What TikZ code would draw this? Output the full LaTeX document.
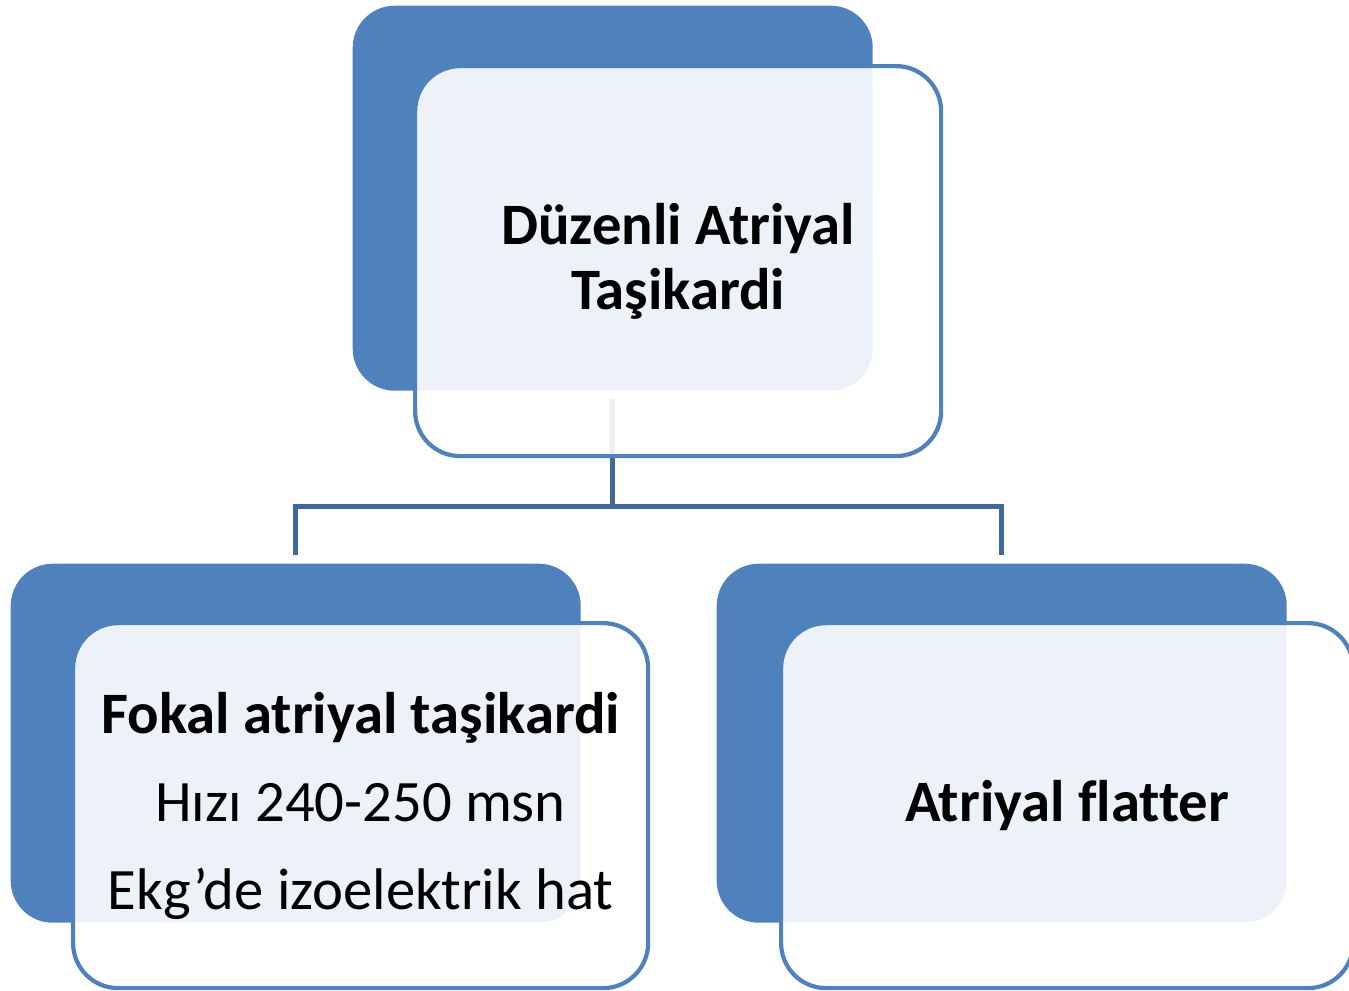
\documentclass[tikz,border=0pt]{standalone}
\usepackage{fontspec}
\setmainfont{Carlito}[Ligatures=NoCommon]
\usepackage{xcolor}
\definecolor{cardblue}{HTML}{4F81BD}
\definecolor{linkblue}{HTML}{41679B}

\begin{document}
\begin{tikzpicture}[
    backcard/.style={fill=cardblue, rounded corners=0.42cm, inner sep=0pt, anchor=north west},
    frontcard/.style={draw=cardblue, line width=1.2pt, fill=white, fill opacity=0.9, text opacity=1,
      rounded corners=0.45cm, inner sep=0pt, anchor=north west, align=center},
    link/.style={draw=linkblue, line width=1.3pt, shorten <=0.08cm, shorten >=0.08cm}]
  \def\cardfont{\fontsize{16.7pt}{18.5pt}\selectfont}
  \useasboundingbox (0,0) rectangle (13.49,-9.90);
  % Back cards (solid blue)
  \node[backcard, minimum width=5.20cm, minimum height=3.85cm] (topback) at (3.52,-0.05) {};
  \node[backcard, minimum width=5.70cm, minimum height=3.59cm] (leftback) at (0.10,-5.63) {};
  \node[backcard, minimum width=5.70cm, minimum height=3.59cm] (rightback) at (7.16,-5.63) {};
  % Tree lines, kept under the front cards
  \draw[link] (topback.south) -- ++(0,-1.15) -| (leftback.north);
  \draw[link] (topback.south) -- ++(0,-1.15) -| (rightback.north);
  % Front cards with the labels
  \node[frontcard, minimum width=5.26cm, minimum height=3.90cm, font=\cardfont\bfseries] (topcard)
    at (4.13,-0.64) {Düzenli Atriyal\\Taşikardi};
  \node[frontcard, minimum width=5.75cm, minimum height=3.65cm,
    font=\fontsize{16.7pt}{25pt}\selectfont] (leftcard)
    at (0.71,-6.21) {{\bfseries Fokal atriyal taşikardi}\\Hızı 240-250 msn\\Ekg’de izoelektrik hat};
  \node[frontcard, minimum width=5.72cm, minimum height=3.65cm, font=\cardfont\bfseries] (rightcard)
    at (7.79,-6.21) {Atriyal flatter};
\end{tikzpicture}
\end{document}
